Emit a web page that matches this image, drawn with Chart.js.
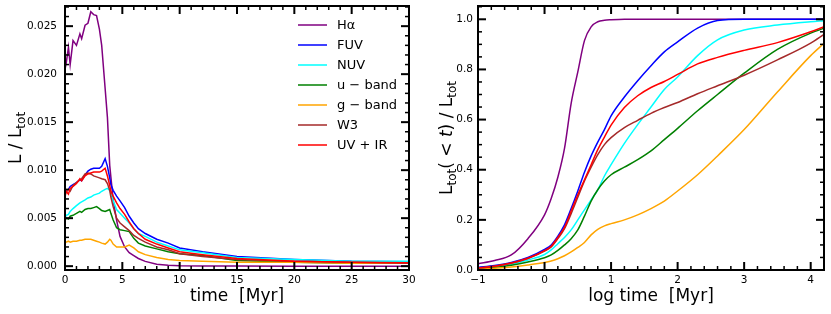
<!doctype html>
<html>
<head>
<title>Luminosity evolution</title>
<script src="https://cdn.jsdelivr.net/npm/chart.js@4.4.1/dist/chart.umd.min.js"></script>
<style>
	body { margin: 0; background: #fff; }
	#wrap { position: relative; width: 831px; height: 314px; }
	canvas { position: absolute; top: 0; }
</style>
</head>
<body>
<div id="wrap">
	<canvas id="left" width="415" height="314" style="left:0"></canvas>
	<canvas id="right" width="416" height="314" style="left:415px"></canvas>
</div>
<script>
const bands = ['Hα', 'FUV', 'NUV', 'u − band', 'g − band', 'W3', 'UV + IR'];
const colors = ['#800080', '#0000ff', '#00ffff', '#008000', '#ffa500', '#a52a2a', '#ff0000'];

// left panel: L / Ltot against time [Myr]
const timeMyr = [0, 0.1, 0.3, 0.45, 0.7, 1.0, 1.3, 1.45, 1.75, 2.0, 2.25, 2.5, 2.75, 3.0, 3.2, 3.5, 3.7, 3.9, 4.0, 4.2,
	4.5, 4.8, 5.2, 5.6, 6.0, 6.4, 7.0, 8.0, 9.0, 10, 12, 15, 20, 25, 30];
const lumHa = [0.0205, 0.0211, 0.0228, 0.0210, 0.0235, 0.0230, 0.0242, 0.0237, 0.0251, 0.0253, 0.0265, 0.0262, 0.0261, 0.0247, 0.0230, 0.0185, 0.0155, 0.0105, 0.0093, 0.0069,
	0.0048, 0.0031, 0.0020, 0.0014, 0.0011, 0.0008, 0.0005, 0.0002, 0.0001, 0.00005, 0.00002, 0.00001, 0, 0, 0];
const lumFUV = [0.0076, 0.0079, 0.0080, 0.0083, 0.0085, 0.0087, 0.0090, 0.0089, 0.0095, 0.0099, 0.0101, 0.0102, 0.0102, 0.0102, 0.0104, 0.0112, 0.0104, 0.0092, 0.0085, 0.0079,
	0.0073, 0.0068, 0.0061, 0.0052, 0.0045, 0.0039, 0.0034, 0.0028, 0.0024, 0.0019, 0.0015, 0.0010, 0.0007, 0.0005, 0.00045];
const lumNUV = [0.0050, 0.0053, 0.0054, 0.0057, 0.0060, 0.0063, 0.0066, 0.0067, 0.0069, 0.0071, 0.0072, 0.0074, 0.0075, 0.0076, 0.0078, 0.0080, 0.0081, 0.0079, 0.0076, 0.0068,
	0.0059, 0.0055, 0.0050, 0.0045, 0.0039, 0.0034, 0.0031, 0.0025, 0.0021, 0.0017, 0.0014, 0.0009, 0.0007, 0.0005, 0.0005];
const lumU = [0.0048, 0.0050, 0.0049, 0.0052, 0.0053, 0.0055, 0.0057, 0.0056, 0.0059, 0.0060, 0.0060, 0.0061, 0.0062, 0.0060, 0.0058, 0.0057, 0.0058, 0.0059, 0.0055, 0.0048,
	0.0040, 0.0038, 0.0037, 0.0036, 0.0029, 0.0024, 0.0021, 0.0018, 0.0015, 0.0013, 0.0011, 0.0006, 0.0004, 0.0003, 0.0003];
const lumG = [0.0024, 0.0025, 0.0026, 0.0025, 0.0026, 0.0026, 0.0027, 0.0027, 0.0028, 0.0028, 0.0028, 0.0027, 0.0026, 0.0025, 0.0024, 0.0023, 0.0025, 0.0028, 0.0027, 0.0023,
	0.0020, 0.0020, 0.0020, 0.0022, 0.0019, 0.0015, 0.0012, 0.0009, 0.0007, 0.0006, 0.0005, 0.0004, 0.0004, 0.0003, 0.0003];
const lumW3 = [0.0075, 0.0077, 0.0080, 0.0078, 0.0084, 0.0087, 0.0090, 0.0091, 0.0096, 0.0097, 0.0096, 0.0094, 0.0093, 0.0092, 0.0091, 0.0090, 0.0086, 0.0079, 0.0072, 0.0062,
	0.0050, 0.0045, 0.0041, 0.0037, 0.0032, 0.0029, 0.0025, 0.0020, 0.0017, 0.0013, 0.0010, 0.0007, 0.0005, 0.0004, 0.0003];
const lumUVIR = [0.0072, 0.0078, 0.0075, 0.0081, 0.0083, 0.0086, 0.0091, 0.0089, 0.0094, 0.0096, 0.0097, 0.0098, 0.0098, 0.0098, 0.0099, 0.0102, 0.0094, 0.0084, 0.0078, 0.0073,
	0.0066, 0.0060, 0.0054, 0.0046, 0.0039, 0.0034, 0.0028, 0.0023, 0.0019, 0.0015, 0.0012, 0.0008, 0.0005, 0.0004, 0.00035];

// right panel: cumulative Ltot(<t) / Ltot against log time [Myr]
const logTime = [-1, -0.75, -0.5, -0.25, 0, 0.1, 0.2, 0.3, 0.4, 0.5, 0.6, 0.7, 0.8, 0.9, 1.0, 1.2, 1.4, 1.6, 1.8, 2.0, 2.3, 2.6, 3.0, 3.5, 4.0, 4.2];
const cumHa = [0.025, 0.038, 0.06, 0.125, 0.22, 0.285, 0.37, 0.485, 0.665, 0.79, 0.915, 0.97, 0.99, 0.996, 0.998, 1, 1, 1, 1, 1, 1, 1, 1, 1, 1, 1];
const cumFUV = [0.01, 0.018, 0.03, 0.05, 0.082, 0.10, 0.135, 0.18, 0.245, 0.315, 0.39, 0.455, 0.51, 0.56, 0.615, 0.69, 0.755, 0.815, 0.87, 0.91, 0.965, 0.995, 1, 1, 1, 1];
const cumNUV = [0.007, 0.013, 0.023, 0.04, 0.062, 0.08, 0.105, 0.13, 0.16, 0.20, 0.24, 0.28, 0.32, 0.375, 0.42, 0.505, 0.58, 0.65, 0.72, 0.77, 0.855, 0.918, 0.957, 0.977, 0.99, 0.994];
const cumU = [0.005, 0.01, 0.019, 0.032, 0.049, 0.06, 0.078, 0.1, 0.125, 0.16, 0.215, 0.275, 0.32, 0.355, 0.38, 0.41, 0.44, 0.475, 0.52, 0.565, 0.635, 0.70, 0.785, 0.88, 0.945, 0.964];
const cumG = [0.003, 0.007, 0.012, 0.02, 0.03, 0.036, 0.045, 0.057, 0.072, 0.09, 0.11, 0.14, 0.162, 0.176, 0.185, 0.20, 0.22, 0.245, 0.275, 0.315, 0.38, 0.455, 0.56, 0.71, 0.855, 0.904];
const cumW3 = [0.008, 0.015, 0.027, 0.046, 0.075, 0.092, 0.125, 0.165, 0.225, 0.29, 0.355, 0.41, 0.46, 0.50, 0.528, 0.568, 0.597, 0.625, 0.648, 0.668, 0.703, 0.735, 0.777, 0.838, 0.905, 0.94];
const cumUVIR = [0.008, 0.015, 0.028, 0.047, 0.077, 0.095, 0.13, 0.17, 0.235, 0.30, 0.36, 0.42, 0.48, 0.53, 0.578, 0.648, 0.695, 0.728, 0.752, 0.78, 0.822, 0.848, 0.876, 0.907, 0.95, 0.97];

const FONT = 'DejaVu Sans';

function makeDatasets(xs, series, smooth) {
	return series.map((ys, i) => ({
		label: bands[i],
		data: xs.map((x, k) => ({x: x, y: ys[k]})),
		borderColor: colors[i],
		borderWidth: 1.5,
		pointRadius: 0,
		fill: false,
		order: series.length - i, // later bands drawn on top, like matplotlib
		cubicInterpolationMode: smooth ? 'monotone' : 'default',
		tension: 0
	}));
}

// inward ticks on all four sides plus the box frame
function boxTicks(xMinor, yMinor) {
	return {
		id: 'boxTicks',
		afterDraw(chart) {
			const ctx = chart.ctx;
			const a = chart.chartArea;
			const x = chart.scales.x, y = chart.scales.y;
			const majX = x.ticks.map(t => t.value);
			const majY = y.ticks.map(t => t.value);
			const isMajor = (v, list, step) => list.some(m => Math.abs(m - v) < step / 100);
			ctx.save();
			ctx.fillStyle = '#000';
			const k0x = Math.ceil(x.min / xMinor - 1e-6), k1x = Math.floor(x.max / xMinor + 1e-6);
			for (let k = k0x; k <= k1x; k++) {
				const v = k * xMinor;
				const px = x.getPixelForValue(v);
				const major = isMajor(v, majX, xMinor);
				const len = major ? 8 : 4, w = major ? 2 : 1.5;
				ctx.fillRect(px - w / 2, a.bottom - len, w, len);
				ctx.fillRect(px - w / 2, a.top, w, len);
			}
			const k0y = Math.ceil(y.min / yMinor - 1e-6), k1y = Math.floor(y.max / yMinor + 1e-6);
			for (let k = k0y; k <= k1y; k++) {
				const v = k * yMinor;
				const py = y.getPixelForValue(v);
				const major = isMajor(v, majY, yMinor);
				const len = major ? 8 : 4, w = major ? 2 : 1.5;
				ctx.fillRect(a.left, py - w / 2, len, w);
				ctx.fillRect(a.right - len, py - w / 2, len, w);
			}
			ctx.strokeStyle = '#000';
			ctx.lineWidth = 2;
			ctx.strokeRect(a.left, a.top, a.right - a.left, a.bottom - a.top);
			ctx.restore();
		}
	};
}

// rotated y-axis title made of pieces (for the "tot" subscripts)
function yTitle(cx, parts) {
	return {
		id: 'yTitle',
		afterDraw(chart) {
			const ctx = chart.ctx;
			const cy = (chart.chartArea.top + chart.chartArea.bottom) / 2;
			ctx.save();
			ctx.translate(cx, cy);
			ctx.rotate(-Math.PI / 2);
			ctx.fillStyle = '#000';
			ctx.textBaseline = 'alphabetic';
			let total = 0;
			parts.forEach(p => {
				ctx.font = (p.italic ? 'italic ' : '') + p.size + 'px "' + FONT + '"';
				p.w = ctx.measureText(p.text).width;
				total += p.w;
			});
			let xx = -total / 2;
			parts.forEach(p => {
				ctx.font = (p.italic ? 'italic ' : '') + p.size + 'px "' + FONT + '"';
				ctx.fillText(p.text, xx, p.dy);
				xx += p.w;
			});
			ctx.restore();
		}
	};
}

const legendInside = {
	id: 'legendInside',
	afterDatasetsDraw(chart) {
		const ctx = chart.ctx;
		ctx.save();
		ctx.font = '13px "' + FONT + '"';
		ctx.textBaseline = 'middle';
		ctx.fillStyle = '#000';
		bands.forEach((b, i) => {
			const yy = 25 + 20 * i;
			ctx.strokeStyle = colors[i];
			ctx.lineWidth = 1.5;
			ctx.beginPath();
			ctx.moveTo(298, yy);
			ctx.lineTo(327, yy);
			ctx.stroke();
			ctx.fillText(b, 337, yy + 1);
		});
		ctx.restore();
	}
};

// fixed axis sizes, and no extra padding for labels that overhang the plot
function fixBox(size, horizontal) {
	return s => {
		if (horizontal) s.height = size; else s.width = size;
		s.paddingTop = 0; s.paddingBottom = 0; s.paddingLeft = 0; s.paddingRight = 0;
	};
}

function scalesFor(opt) {
	return {
		x: {
			type: 'linear',
			min: opt.xMin, max: opt.xMax,
			grid: {display: false, drawTicks: false},
			border: {display: false},
			afterFit: fixBox(44, true),
			ticks: {
				stepSize: opt.xStep, includeBounds: false, padding: 4, color: '#000',
				font: {family: FONT, size: 10.5},
				callback: v => (v < 0 ? '\u2212' + Math.abs(v) : String(v))
			},
			title: {
				display: true, text: opt.xTitle, color: '#000',
				font: {family: FONT, size: 17}, padding: {top: 0, bottom: 7}
			}
		},
		y: {
			type: 'linear',
			min: opt.yMin, max: opt.yMax,
			grid: {display: false, drawTicks: false},
			border: {display: false},
			afterFit: fixBox(opt.yWidth, false),
			ticks: {
				stepSize: opt.yStep, includeBounds: false, padding: opt.yPad, color: '#000',
				font: {family: FONT, size: 10.5},
				callback: v => v.toFixed(opt.yDec)
			}
		}
	};
}

const common = {
	responsive: false,
	animation: false,
	events: [],
	plugins: {legend: {display: false}, tooltip: {enabled: false}}
};

new Chart(document.getElementById('left'), {
	type: 'line',
	data: {datasets: makeDatasets(timeMyr, [lumHa, lumFUV, lumNUV, lumU, lumG, lumW3, lumUVIR], false)},
	options: Object.assign({}, common, {
		layout: {padding: {left: 0, right: 6, top: 6, bottom: 0}},
		scales: scalesFor({xMin: 0, xMax: 30, xStep: 5, xTitle: 'time  [Myr]',
			yMin: -0.0004, yMax: 0.0271, yStep: 0.005, yDec: 3, yWidth: 65, yPad: 8})
	}),
	plugins: [boxTicks(1, 0.001), legendInside, yTitle(15, [
		{text: 'L / L', size: 17, dy: 6},
		{text: 'tot', size: 12, dy: 10}
	])]
});

new Chart(document.getElementById('right'), {
	type: 'line',
	data: {datasets: makeDatasets(logTime, [cumHa, cumFUV, cumNUV, cumU, cumG, cumW3, cumUVIR], true)},
	options: Object.assign({}, common, {
		layout: {padding: {left: 0, right: 7, top: 6, bottom: 0}},
		scales: scalesFor({xMin: -1, xMax: 4.2, xStep: 1, xTitle: 'log time  [Myr]',
			yMin: 0, yMax: 1.053, yStep: 0.2, yDec: 1, yWidth: 63, yPad: 5})
	}),
	plugins: [boxTicks(0.2, 0.05), yTitle(31, [
		{text: 'L', size: 17, dy: 6},
		{text: 'tot', size: 12, dy: 10},
		{text: '( < ', size: 17, dy: 6},
		{text: 't', size: 17, dy: 6, italic: true},
		{text: ') / L', size: 17, dy: 6},
		{text: 'tot', size: 12, dy: 10}
	])]
});
</script>
</body>
</html>
